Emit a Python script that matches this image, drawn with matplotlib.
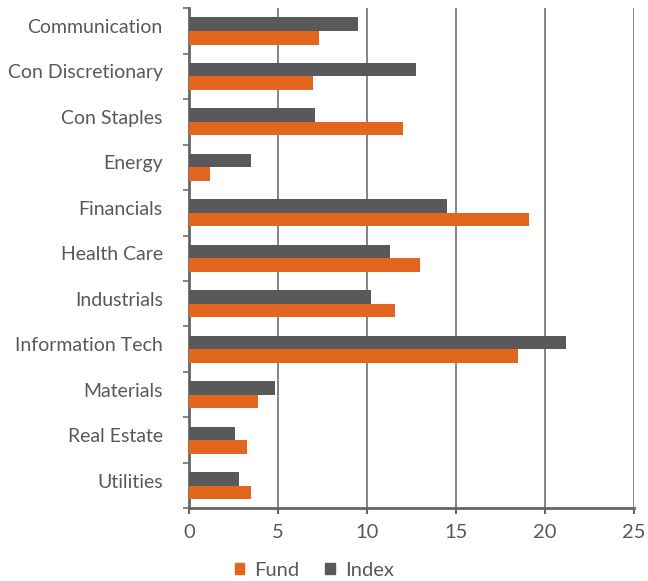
import numpy as np
import matplotlib.pyplot as plt
import matplotlib.transforms as mtrans
from matplotlib.patches import Patch

plt.rcParams['font.family'] = ['Lato', 'DejaVu Sans']

sectors = ['Communication', 'Con Discretionary', 'Con Staples', 'Energy', 'Financials',
           'Health Care', 'Industrials', 'Information Tech', 'Materials', 'Real Estate',
           'Utilities']
fund = [7.3, 6.95, 12.0, 1.15, 19.1, 13.0, 11.55, 18.5, 3.85, 3.25, 3.45]
index = [9.5, 12.75, 7.05, 3.45, 14.5, 11.3, 10.25, 21.2, 4.85, 2.55, 2.8]

orange = '#E2661E'
grey = '#58595B'
text_col = '#595959'

fig, ax = plt.subplots(figsize=(6.48, 5.81), dpi=100)
fig.subplots_adjust(left=0.292, right=0.978, top=0.986, bottom=0.125)

y = np.arange(len(sectors))
h = 0.3
ax.barh(y - h / 2, index, height=h, color=grey, label='Index', zorder=3)
ax.barh(y + h / 2, fund, height=h, color=orange, label='Fund', zorder=3)

ax.set_xlim(0, 25)
ax.set_ylim(len(sectors) - 0.5, -0.5)
ax.set_xticks([0, 5, 10, 15, 20, 25])
ax.set_yticks(y)
ax.set_yticklabels(sectors)
ax.set_yticks(np.arange(-0.5, len(sectors)), minor=True)
ax.tick_params(axis='y', which='major', length=0, pad=19, labelsize=14, labelcolor=text_col)
ax.tick_params(axis='y', which='minor', length=4, color='#888888', width=1.5)
ax.tick_params(axis='x', length=4, color='#666666', width=1.5, labelsize=14.5,
               labelcolor=text_col, pad=7)

# labels sit a little above the band centre in the original
shift = mtrans.ScaledTranslation(0, 5 / 100, fig.dpi_scale_trans)
for lbl in ax.get_yticklabels():
    lbl.set_transform(lbl.get_transform() + shift)

ax.grid(axis='x', color='#707070', linewidth=1.2, zorder=0)
for s in ['top', 'right']:
    ax.spines[s].set_visible(False)
for s in ['left', 'bottom']:
    ax.spines[s].set_color('#666666')
    ax.spines[s].set_linewidth(2)

handles = [Patch(color=orange, label='Fund'), Patch(color=grey, label='Index')]
fig.legend(handles=handles, loc='lower center', ncol=2, frameon=False,
           bbox_to_anchor=(0.485, -0.027), fontsize=14.5, labelcolor=text_col,
           handlelength=0.45, handleheight=0.45, handletextpad=0.5, columnspacing=1.3)

fig.savefig('out.png', dpi=100)
